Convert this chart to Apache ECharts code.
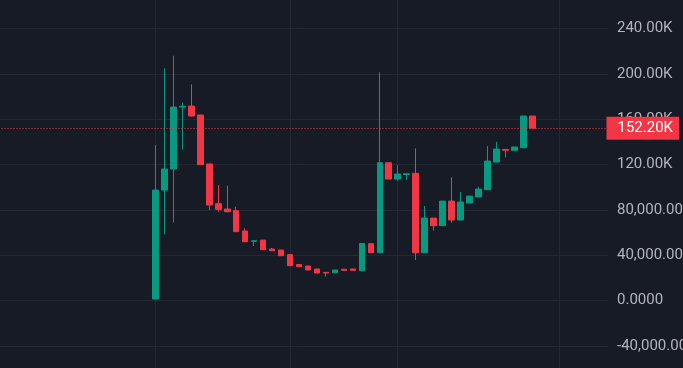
<!DOCTYPE html>
<html>
<head>
<meta charset="utf-8">
<script src="https://cdn.jsdelivr.net/npm/echarts@6/dist/echarts.min.js"></script>
<style>
  html, body { margin: 0; padding: 0; background: #171b26; }
  #chart { width: 683px; height: 368px; }
</style>
</head>
<body>
<div id="chart"></div>
<script>
// ---- data (43 candles) ----
const periods = ['P01','P02','P03','P04','P05','P06','P07','P08','P09','P10',
  'P11','P12','P13','P14','P15','P16','P17','P18','P19','P20',
  'P21','P22','P23','P24','P25','P26','P27','P28','P29','P30',
  'P31','P32','P33','P34','P35','P36','P37','P38','P39','P40',
  'P41','P42','P43'];
const opens  = [1500, 97600, 116200, 170800, 171700, 163800, 120600, 85600, 80900, 79400,
  61500, 52400, 53500, 45600, 44700, 40700, 31900, 30600, 28000, 25000,
  24700, 27700, 28000, 26500, 50300, 42300, 121700, 107300, 111300, 112400,
  42300, 72900, 66200, 87900, 71200, 86200, 91500, 97900, 122300, 133500,
  132700, 134900, 162900];
const closes = [97600, 116200, 170800, 171500, 162900, 120000, 84400, 80600, 78500, 60900,
  52000, 52900, 45000, 44100, 39700, 30900, 30000, 27100, 24400, 24400,
  27100, 26800, 26800, 50500, 42300, 121700, 107300, 111800, 112000, 42300,
  72900, 66200, 87900, 71200, 87100, 92300, 98500, 123200, 133800, 132700,
  135600, 162900, 152200];
const highs  = [137300, 205000, 216100, 175000, 190900, 163800, 120600, 102000, 101400, 82900,
  63900, 52900, 53500, 46500, 44700, 40700, 32400, 30600, 28000, 25000,
  27100, 28200, 28200, 50900, 50300, 201400, 121700, 119700, 112000, 134400,
  83500, 72900, 87900, 108800, 95900, 92300, 100500, 136400, 140200, 133500,
  135600, 162900, 162900];
const lows   = [1100, 58600, 69100, 133500, 162500, 119700, 80000, 78500, 78000, 60900,
  52000, 48200, 45000, 44100, 39700, 30900, 29700, 27100, 24400, 21200,
  24700, 26800, 26800, 26500, 42300, 42300, 107300, 105800, 106500, 35900,
  42300, 61700, 66200, 68800, 71200, 86200, 91500, 97900, 122300, 126500,
  132700, 134900, 152200];
const timeGridIdx = [0, 15, 27, 45];          // vertical time-grid lines (candle index)
const priceTicks = [-80000, 280000, 40000];   // min, max, step of the price scale

// ---- layout (empty slots around the candles, like the chart's right margin) ----
const padBefore = 17, padAfter = 8;
const axisCats = [];
for (let i = 0; i < padBefore; i++) axisCats.push('pre' + i);
periods.forEach(p => axisCats.push(p));
for (let i = 0; i < padAfter; i++) axisCats.push('post' + i);

const candleData = [];
for (let i = 0; i < padBefore; i++) candleData.push('-');
for (let i = 0; i < periods.length; i++) candleData.push([opens[i], closes[i], lows[i], highs[i]]);
for (let i = 0; i < padAfter; i++) candleData.push('-');

function fmt(v) {
  if (Math.abs(v) >= 100000) return (v / 1000).toFixed(2) + 'K';
  if (v === 0) return '0.0000';
  return v.toLocaleString('en-US', { minimumFractionDigits: 2, maximumFractionDigits: 2 });
}

const UP = '#089981', DOWN = '#f23645', GRID = '#242834', TXT = '#b2b5be';
const lastClose = closes[closes.length - 1];

const chart = echarts.init(document.getElementById('chart'), null, { renderer: 'canvas' });
chart.setOption({
  animation: false,
  backgroundColor: '#171b26',
  grid: { left: -1.5, right: 74.5, top: -16.7, bottom: -23.4, containLabel: false, outerBoundsMode: 'none' },
  xAxis: {
    type: 'category',
    data: axisCats,
    boundaryGap: true,
    axisLine: { show: false },
    axisTick: { show: false },
    axisLabel: { show: false },
    splitLine: { show: false }
  },
  yAxis: {
    type: 'value',
    position: 'right',
    min: priceTicks[0],
    max: priceTicks[1],
    interval: priceTicks[2],
    scale: false,
    axisLine: { show: false },
    axisTick: { show: false },
    splitLine: { show: true, lineStyle: { color: GRID, width: 1 } },
    axisLabel: {
      margin: 8.5,
      color: TXT,
      fontFamily: 'Roboto',
      fontSize: 15,
      align: 'left',
      formatter: fmt
    }
  },
  series: [
    {
      type: 'candlestick',
      data: candleData,
      barWidth: 6,
      z: 2,
      itemStyle: {
        color: UP, color0: DOWN,
        borderColor: UP, borderColor0: DOWN,
        borderWidth: 1
      },
      markLine: {
        silent: true,
        z: 1,
        symbol: ['none', 'none'],
        label: { show: false },
        lineStyle: { color: GRID, type: 'solid', width: 1 },
        data: timeGridIdx.map(i => ({ xAxis: axisCats[padBefore + i] }))
      }
    },
    {
      type: 'line',
      data: [],
      z: 5,
      markLine: {
        silent: true,
        z: 6,
        symbol: ['none', 'none'],
        lineStyle: { color: DOWN, type: [1, 2], width: 1 },
        label: {
          show: true,
          position: 'end',
          distance: -2,
          formatter: p => fmt(p.value),
          color: '#ffffff',
          backgroundColor: DOWN,
          fontFamily: 'Roboto',
          fontSize: 15,
          lineHeight: 15,
          padding: [4, 6, 4, 11],
          borderRadius: 0
        },
        data: [{ yAxis: lastClose }]
      }
    }
  ]
});
</script>
</body>
</html>
